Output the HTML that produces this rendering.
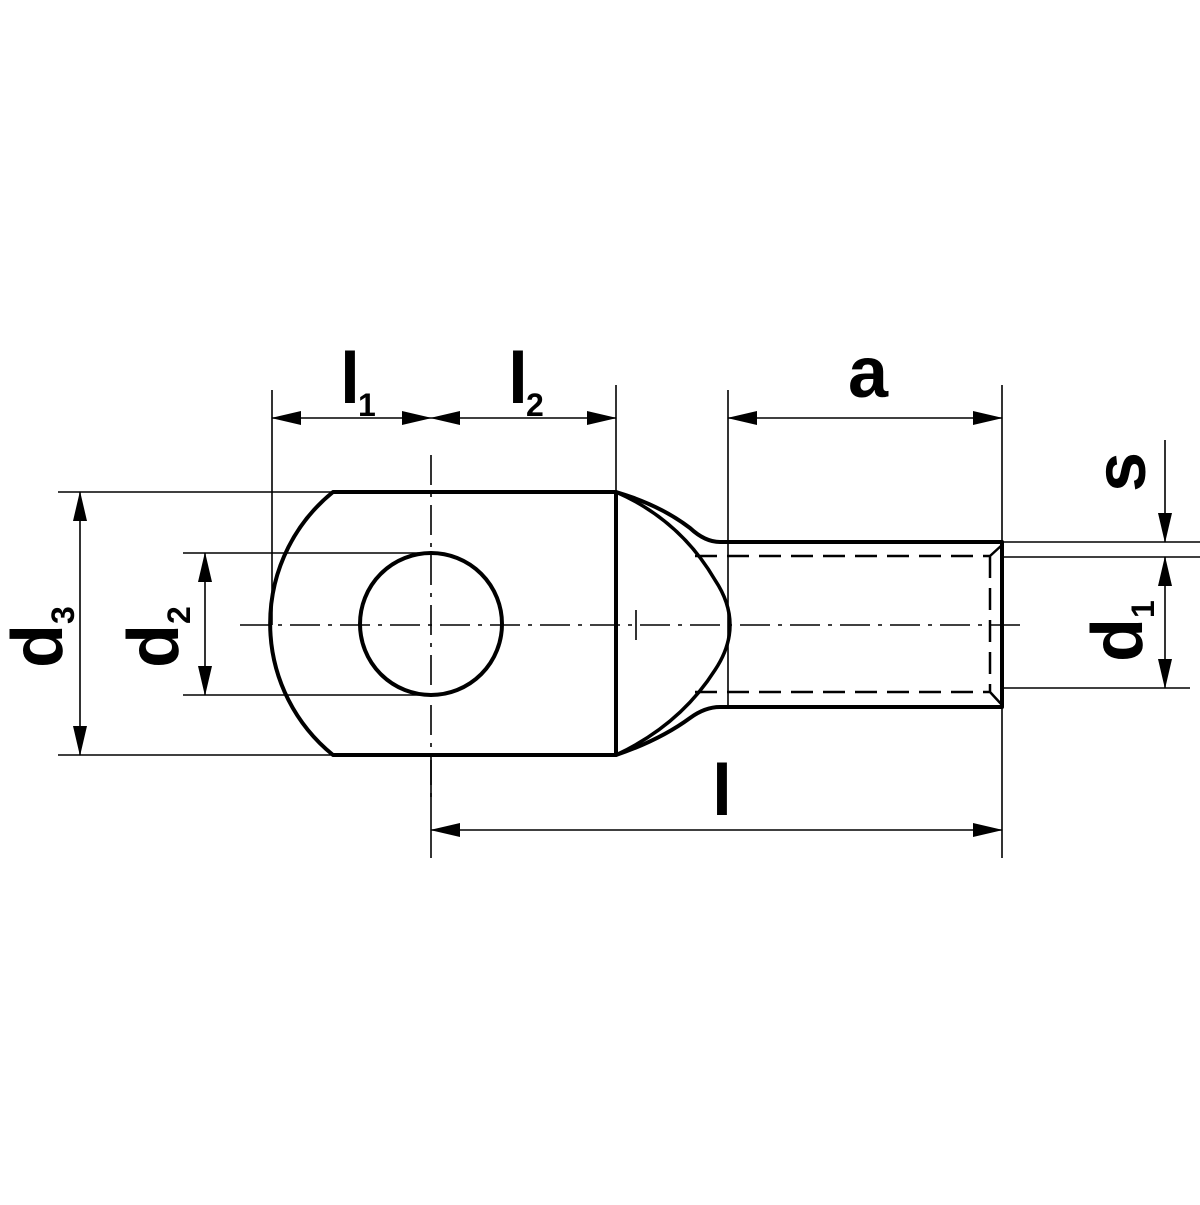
<!DOCTYPE html>
<html><head><style>html,body{margin:0;padding:0;background:#fff}</style></head><body>
<svg width="1200" height="1200" viewBox="0 0 1200 1200" xmlns="http://www.w3.org/2000/svg">
<defs>
<marker id="ar" markerWidth="30" markerHeight="16" refX="29" refY="8" orient="auto-start-reverse" markerUnits="userSpaceOnUse">
<path d="M0,1 L30,8 L0,15 Z" fill="#000"/></marker>
</defs>
<g stroke="#000" stroke-width="1.6" fill="none">
<line x1="272" y1="390" x2="272" y2="625"/>
<line x1="616" y1="385" x2="616" y2="492"/>
<line x1="728" y1="390" x2="728" y2="708"/>
<line x1="1002" y1="385" x2="1002" y2="858"/>
<line x1="431" y1="760" x2="431" y2="858"/>
<line x1="58" y1="492" x2="333" y2="492"/>
<line x1="58" y1="755" x2="333" y2="755"/>
<line x1="183" y1="553" x2="431" y2="553"/>
<line x1="183" y1="695" x2="431" y2="695"/>
<line x1="1002" y1="542" x2="1200" y2="542"/>
<line x1="1002" y1="557" x2="1200" y2="557"/>
<line x1="1002" y1="688" x2="1190" y2="688"/>
<line x1="272" y1="418" x2="431" y2="418" marker-start="url(#ar)" marker-end="url(#ar)"/>
<line x1="431" y1="418" x2="616" y2="418" marker-start="url(#ar)" marker-end="url(#ar)"/>
<line x1="728" y1="418" x2="1002" y2="418" marker-start="url(#ar)" marker-end="url(#ar)"/>
<line x1="431" y1="830" x2="1002" y2="830" marker-start="url(#ar)" marker-end="url(#ar)"/>
<line x1="80" y1="492" x2="80" y2="755" marker-start="url(#ar)" marker-end="url(#ar)"/>
<line x1="205" y1="553" x2="205" y2="695" marker-start="url(#ar)" marker-end="url(#ar)"/>
<line x1="1165" y1="440" x2="1165" y2="542" marker-end="url(#ar)"/>
<line x1="1165" y1="557" x2="1165" y2="688" marker-start="url(#ar)" marker-end="url(#ar)"/>
<line x1="240" y1="625" x2="1025" y2="625" stroke-dasharray="30,8,4,8"/>
<line x1="431" y1="455" x2="431" y2="800" stroke-dasharray="30,8,4,8"/>
<line x1="636" y1="610" x2="636" y2="640"/>
</g>
<g stroke="#000" stroke-width="4" fill="none" stroke-linejoin="round">
<path d="M333,492 L616,492 L616,755 L333,755 A169,169 0 0 1 333,492 Z"/>
<circle cx="431" cy="624" r="71"/>
<path d="M616,492 Q660,505 690,528 Q705,542 720,542 L1002,542 L1002,707 L720,707 Q705,707 690,718 Q660,740 616,755"/>
<path d="M616,492 Q680,520 715,580 Q745,625 715,670 Q680,725 616,755" stroke-width="3.5"/>
</g>
<g stroke="#000" stroke-width="2.5" fill="none">
<path d="M695,556 L990,556 M695,692 L990,692 M990,556 L990,692 M990,556 L1002,545 M990,692 L1002,705" stroke-dasharray="22,10"/>
</g>
<g font-family="Liberation Sans, sans-serif" font-weight="bold" fill="#000">
<text x="340" y="403" font-size="72">l</text><text x="358" y="416" font-size="32">1</text>
<text x="508" y="403" font-size="72">l</text><text x="526" y="416" font-size="32">2</text>
<text x="848" y="397" font-size="72">a</text>
<text x="712" y="815" font-size="72">l</text>
<text transform="translate(62,668) rotate(-90)" font-size="72">d<tspan font-size="32" dy="12">3</tspan></text>
<text transform="translate(178,668) rotate(-90)" font-size="72">d<tspan font-size="32" dy="12">2</tspan></text>
<text transform="translate(1145,492) rotate(-90)" font-size="72">s</text>
<text transform="translate(1142,662) rotate(-90)" font-size="72">d<tspan font-size="32" dy="12">1</tspan></text>
</g>
</svg>
</body></html>
